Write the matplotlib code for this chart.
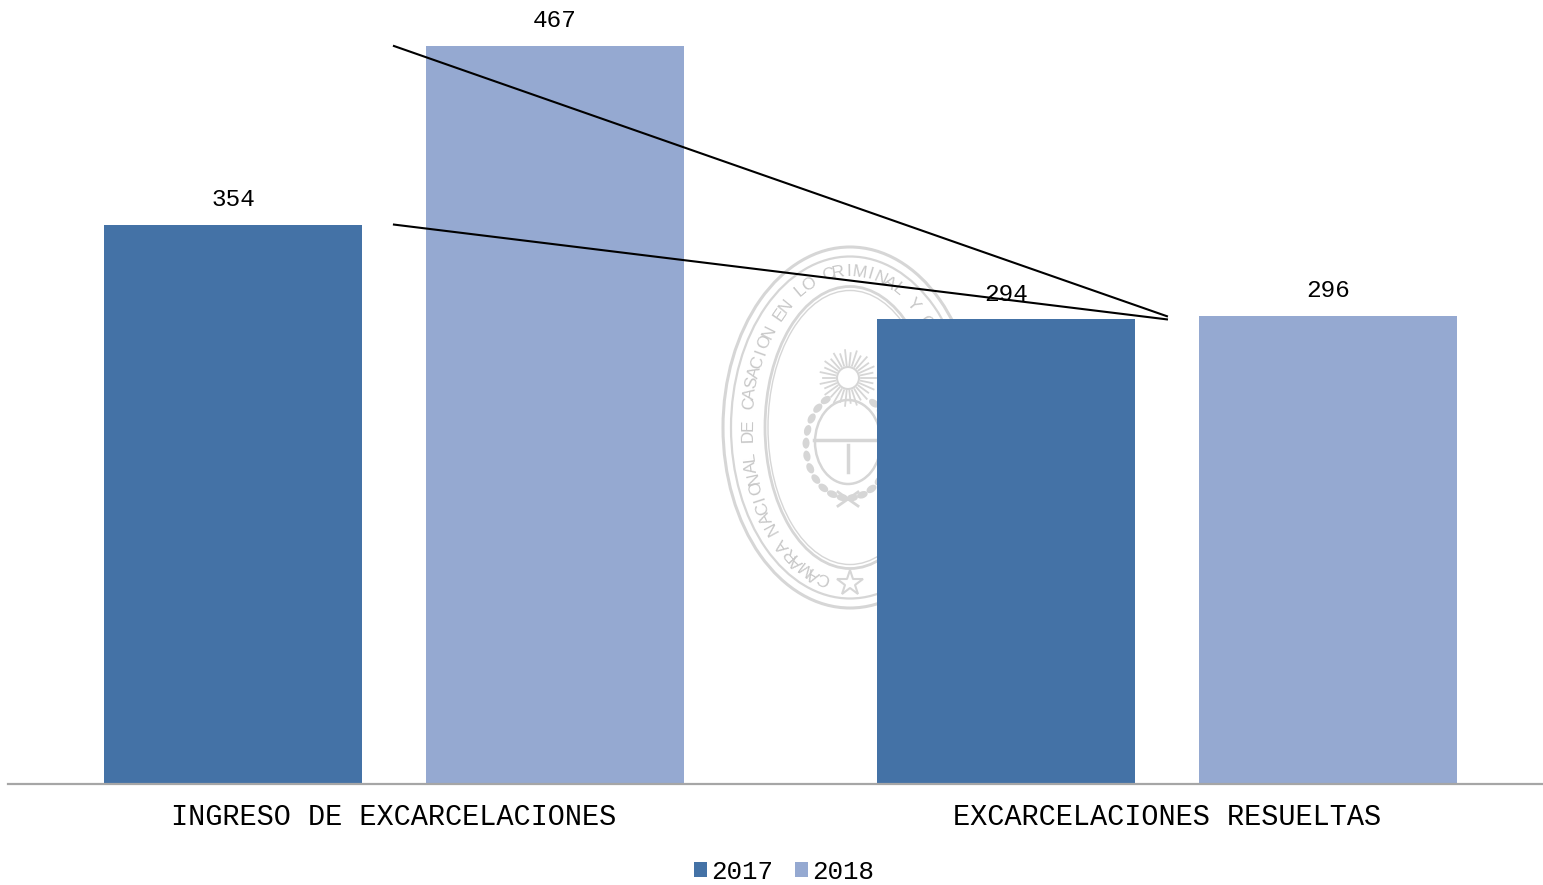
#!/usr/bin/env python3
# -*- coding: utf-8 -*-
import numpy as np
import matplotlib
matplotlib.use('Agg')
import matplotlib.pyplot as plt
from matplotlib.patches import Ellipse, Circle

W, H = 1543, 885
FONT = ['Liberation Mono', 'DejaVu Sans Mono']
SEAL = '#d6d6d6'

categories = ['INGRESO DE EXCARCELACIONES', 'EXCARCELACIONES RESUELTAS']
years = ['2017', '2018']
values_2017 = [354, 294]
values_2018 = [467, 296]
seal_text = 'CAMARA NACIONAL DE CASACION EN LO CRIMINAL Y CORRECCIONAL'

plt.rcParams['font.family'] = FONT

fig = plt.figure(figsize=(W / 100, H / 100), dpi=100)

# watermark behind the chart, in pixel coordinates
bg = fig.add_axes([0, 0, 1, 1], zorder=0)
bg.set_xlim(0, W)
bg.set_ylim(H, 0)
bg.axis('off')

cx, cy = 850, 427.5
for w, h, lw in [(127, 180.5, 2.2), (119, 171, 1.6), (85, 141, 2.0), (82, 137, 1.0)]:
    bg.add_patch(Ellipse((cx, cy), 2 * w, 2 * h, fill=False, ec=SEAL, lw=lw))

# ring lettering, letter by letter along the ellipse (clockwise from bottom left)
a, b = 102, 156
t = np.linspace(np.radians(105), np.radians(440), 4000)
px = cx + a * np.cos(t)
py = cy + b * np.sin(t)
seg = np.hypot(np.diff(px), np.diff(py))
arc = np.concatenate([[0], np.cumsum(seg)])
step = 10.6
for i, ch in enumerate(seal_text):
    s = i * step
    if s > arc[-1]:
        break
    k = min(np.searchsorted(arc, s), len(px) - 2)
    # y axis points down, so flip dy to get the screen rotation
    ang = np.degrees(np.arctan2(-(py[k + 1] - py[k]), px[k + 1] - px[k]))
    bg.text(px[k], py[k], ch, rotation=ang, rotation_mode='anchor', ha='center', va='center',
            fontsize=12.5, color='#c8c8c8', family=['Liberation Sans', 'DejaVu Sans'])

bg.plot([850], [583], marker='*', ms=19, mfc='white', mec=SEAL, mew=1.5, ls='none')

# sun
sx, sy = 848, 378
for ang in np.arange(0, 360, 12):
    r = np.radians(ang)
    r1 = 28 if ang % 24 == 0 else 25
    bg.plot([sx + 13 * np.cos(r), sx + r1 * np.cos(r)], [sy + 13 * np.sin(r), sy + r1 * np.sin(r)],
            color=SEAL, lw=1.3)
bg.add_patch(Circle((sx, sy), 11, fill=False, ec=SEAL, lw=1.5))

# shield and laurel
bg.add_patch(Ellipse((848, 442), 66, 84, fill=False, ec=SEAL, lw=1.8))
bg.plot([814, 882], [440, 440], color=SEAL, lw=2.5)
bg.plot([848, 848], [445, 472], color=SEAL, lw=2.5)
for ang in np.arange(0, 360, 14):
    r = np.radians(ang)
    if ang < 250 or ang > 300:
        bg.add_patch(Ellipse((848 + 42 * np.cos(r), 445 + 53 * np.sin(r)), 7, 11, angle=ang,
                             fc=SEAL, ec='none'))
bg.plot([838, 858], [492, 506], color=SEAL, lw=2)
bg.plot([858, 838], [492, 506], color=SEAL, lw=2)

# chart
ax = fig.add_axes([8 / W, (H - 784) / H, (W - 8) / W, 784 / H], zorder=1)
ax.patch.set_alpha(0)

x = np.arange(len(categories))
width = 0.334
off = 0.208
b1 = ax.bar(x - off, values_2017, width, color='#4472a6', label=years[0], zorder=2)
b2 = ax.bar(x + off, values_2018, width, color='#95a9d1', label=years[1], zorder=2)
ax.bar_label(b1, padding=10, fontsize=17.6, color='black')
ax.bar_label(b2, padding=10, fontsize=17.6, color='black')

ax.plot(x, values_2017, color='black', lw=1.5, zorder=3)
ax.plot(x, values_2018, color='black', lw=1.5, zorder=3)

ax.set_xlim(-0.4993, 1.4865)
ax.set_ylim(0, 784 / (738 / 467))
ax.set_xticks(x)
ax.set_xticklabels(categories, fontsize=20.6, color='black')
ax.tick_params(axis='x', length=0, pad=14)
ax.yaxis.set_visible(False)
for sp in ['top', 'left', 'right']:
    ax.spines[sp].set_visible(False)
ax.spines['bottom'].set_color('#a6a6a6')
ax.spines['bottom'].set_linewidth(1.6)

fig.legend(loc='center', bbox_to_anchor=(784 / W, 1 - 872 / H), ncol=2, frameon=False,
           fontsize=18.6, handlelength=0.52, handleheight=0.52, handletextpad=0.15,
           columnspacing=0.85, borderpad=0)

fig.savefig('out.png', dpi=100)
